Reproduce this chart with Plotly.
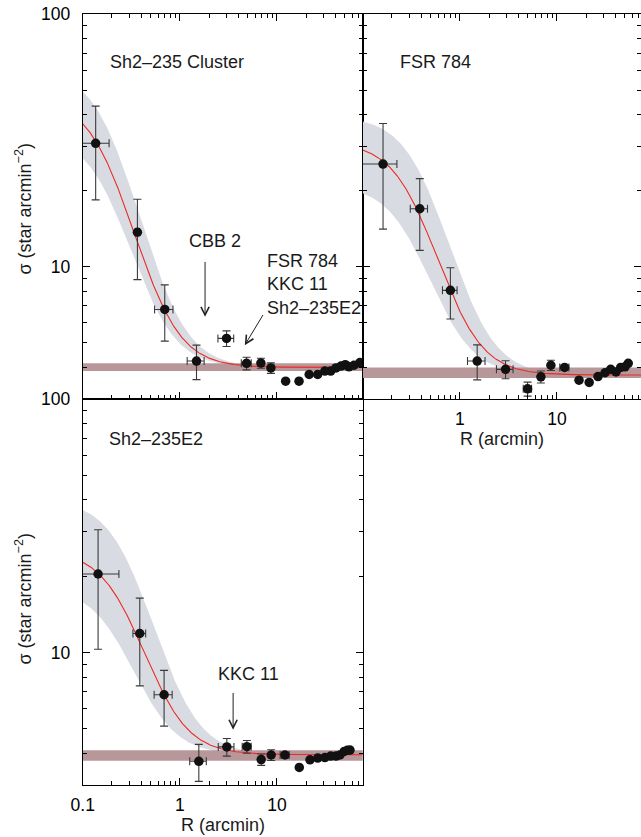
import numpy as np
import plotly.graph_objects as go

FONT = "Liberation Sans, Arial, Helvetica, sans-serif"
W, H = 641, 837

# ---------------- radial density profiles ----------------
# Sh2-235 Cluster
cl_r = [0.136, 0.366, 0.70, 1.486, 3.03, 4.87, 6.84, 8.67,
        12.3, 16.9, 21.5, 26.3, 31.2, 35.8, 40.6, 45.7, 50.6, 55.2, 62.2, 71.7]
cl_r_err = [0.051, 0.02, 0.15, 0.295, 0.56, 0.57, 0.25, 0.25] + [None] * 12
cl_sigma = [30.8, 13.7, 6.78, 4.24, 5.21, 4.15, 4.16, 3.98,
            3.53, 3.53, 3.75, 3.75, 3.87, 3.87, 3.98, 4.05, 4.10, 4.02, 4.08, 4.18]
cl_sigma_err = [12.4, 4.8, 1.7, 0.66, 0.37, 0.24, 0.19, 0.19] + [None] * 12

# FSR 784
fsr_r = [0.162, 0.387, 0.80, 1.51, 2.96, 4.99, 6.84, 8.67, 12.0,
         16.9, 21.5, 26.5, 31.3, 35.8, 40.6, 45.4, 50.3, 54.3]
fsr_r_err = [0.063, 0.078, 0.137, 0.31, 0.575, 0.49, 0.3, 0.3, 1.3] + [None] * 9
fsr_sigma = [25.5, 16.97, 8.07, 4.24, 3.93, 3.29, 3.67, 4.08, 4.00,
             3.56, 3.49, 3.68, 3.81, 3.93, 3.84, 4.00, 4.02, 4.15]
fsr_sigma_err = [11.4, 5.35, 1.85, 0.67, 0.32, 0.21, 0.2, 0.19, 0.1] + [None] * 9

# Sh2-235E2
e2_r = [0.144, 0.387, 0.689, 1.57, 3.05, 4.91, 6.89, 8.73, 12.1,
        17.0, 21.9, 26.3, 31.2, 35.8, 40.6, 44.6, 49.4, 53.1, 56.6]
e2_r_err = [0.092, 0.058, 0.145, 0.305, 0.56, 0.52, 0.3, 0.3, 1.3] + [None] * 10
e2_sigma = [20.4, 11.88, 6.81, 3.72, 4.24, 4.25, 3.78, 3.94, 3.94,
            3.52, 3.77, 3.83, 3.85, 3.90, 3.90, 3.94, 4.07, 4.11, 4.12]
e2_sigma_err = [10.1, 4.5, 1.69, 0.62, 0.34, 0.245, 0.195, 0.19, 0.1] + [None] * 10

# King-profile fits: (sigma_bg, sigma_0, R_core), 1-sigma envelope and background level band
cl_fit = (4.00, 42.6, 0.183)
cl_fit_hi = (57.0, 0.198)
cl_fit_lo = (29.7, 0.184)
cl_bg_band = (3.87, 4.15)

fsr_fit = (3.73, 27.3, 0.348)
fsr_fit_hi = (35.6, 0.436)
fsr_fit_lo = (17.35, 0.319)
fsr_bg_band = (3.63, 4.00)

e2_fit = (3.95, 21.3, 0.271)
e2_fit_hi = (36.05, 0.305)
e2_fit_lo = (14.1, 0.229)
e2_bg_band = (3.74, 4.11)

# ---------------- styling ----------------
RED = "#ec2a22"
GREY_BAND = "#d9dbe2"
ROSE_BAND = "#b8979b"
POINT = "#111111"
ERR = "#3a3a3a"


def king(r, bg, s0, rc):
    r = np.asarray(r)
    return bg + s0 / (1.0 + (r / rc) ** 2)


r_grid = np.logspace(-1, 1.95, 400)

fig = go.Figure()


def add_panel(xa, ya, r, r_err, sig, sig_err, fit, fit_hi, fit_lo, bg_band):
    bg = fit[0]
    # uncertainty envelope of the fit
    fig.add_trace(go.Scatter(x=r_grid, y=king(r_grid, bg, *fit_hi), mode="lines",
                             line=dict(width=0, color=GREY_BAND), xaxis=xa, yaxis=ya,
                             hoverinfo="skip"))
    fig.add_trace(go.Scatter(x=r_grid, y=king(r_grid, bg, *fit_lo), mode="lines",
                             line=dict(width=0, color=GREY_BAND), fill="tonexty",
                             fillcolor=GREY_BAND, xaxis=xa, yaxis=ya, hoverinfo="skip"))
    # background density level
    ends = [r_grid[0], r_grid[-1]]
    fig.add_trace(go.Scatter(x=ends, y=[bg_band[1]] * 2, mode="lines",
                             line=dict(width=0, color=ROSE_BAND), xaxis=xa, yaxis=ya,
                             hoverinfo="skip"))
    fig.add_trace(go.Scatter(x=ends, y=[bg_band[0]] * 2, mode="lines",
                             line=dict(width=0, color=ROSE_BAND), fill="tonexty",
                             fillcolor=ROSE_BAND, xaxis=xa, yaxis=ya, hoverinfo="skip"))
    # best-fit King profile
    fig.add_trace(go.Scatter(x=r_grid, y=king(r_grid, *fit), mode="lines",
                             line=dict(width=1.1, color=RED), xaxis=xa, yaxis=ya,
                             hoverinfo="skip"))
    # measured densities
    fig.add_trace(go.Scatter(
        x=r, y=sig, mode="markers", xaxis=xa, yaxis=ya,
        marker=dict(size=9.5, color=POINT),
        error_x=dict(type="data", array=r_err, symmetric=True, color=ERR,
                     thickness=1.1, width=4),
        error_y=dict(type="data", array=sig_err, symmetric=True, color=ERR,
                     thickness=1.1, width=4),
    ))


add_panel("x", "y", e2_r, e2_r_err, e2_sigma, e2_sigma_err,
          e2_fit, e2_fit_hi, e2_fit_lo, e2_bg_band)
add_panel("x2", "y2", cl_r, cl_r_err, cl_sigma, cl_sigma_err,
          cl_fit, cl_fit_hi, cl_fit_lo, cl_bg_band)
add_panel("x3", "y3", fsr_r, fsr_r_err, fsr_sigma, fsr_sigma_err,
          fsr_fit, fsr_fit_hi, fsr_fit_lo, fsr_bg_band)

# ---------------- axes ----------------
PX_PER_DEC = 97.1
x_left, x_mid, x_right = 82.7, 362.7, W
y_top, y_mid, y_bot = 14.0, 399.0, 785.0

dom_x_left = [x_left / W, x_mid / W]
dom_x_right = [x_mid / W, 1.0]
dom_y_top = [1 - y_mid / H, 1 - y_top / H]
dom_y_bot = [1 - y_bot / H, 1 - y_mid / H]

rng_x_left = [-1, -1 + (x_mid - x_left) / PX_PER_DEC]
rng_x_right = [-1, -1 + (x_right - x_mid) / PX_PER_DEC]
rng_y = [np.log10(3), 2]

x_major = [0.1, 1, 10]
x_minor = [m * d for d in (0.1, 1, 10) for m in range(2, 10)]
y_major = [10, 100]
y_minor = [m * d for d in (1, 10) for m in range(2, 10)]

tickfont = dict(family=FONT, size=17.5, color="black")


def axis(domain, rng, vals, texts, minor_vals, mirror, show_labels, standoff):
    return dict(
        type="log", domain=domain, range=rng, automargin=False,
        showline=True, linecolor="black",
        linewidth=1, mirror=mirror, ticks="inside", ticklen=7, tickwidth=1,
        tickcolor="black", tickmode="array", tickvals=vals, ticktext=texts,
        showticklabels=show_labels, showgrid=False, zeroline=False,
        tickfont=tickfont, ticklabelstandoff=standoff,
        minor=dict(ticks="inside", ticklen=4, tickwidth=1, tickcolor="black",
                   tickmode="array", tickvals=minor_vals, showgrid=False),
    )


fig.update_layout(
    template="none",
    xaxis=axis(dom_x_left, rng_x_left, x_major, ["0.1", "1", "10"], x_minor,
               True, True, 4),
    yaxis=axis(dom_y_bot, rng_y, y_major, ["10", "100"], y_minor, "ticks", True, 8),
    xaxis2=axis(dom_x_left, rng_x_left, x_major, ["", "", ""], x_minor,
                "ticks", False, 4),
    yaxis2=axis(dom_y_top, rng_y, y_major, ["10", "100"], y_minor, "ticks", True, 8),
    xaxis3=axis(dom_x_right, rng_x_right, x_major, ["", "1", "10"], x_minor,
                "ticks", True, 4),
    yaxis3=axis(dom_y_top, rng_y, y_major, ["", ""], y_minor, "ticks", False, 8),
)
fig.update_layout(xaxis2=dict(anchor="y2"), yaxis2=dict(anchor="x2"),
                  xaxis3=dict(anchor="y3"), yaxis3=dict(anchor="x3"))

# ---------------- text ----------------
lab_font = dict(family=FONT, size=18, color="#1a1a1a")
ann = []

# panel names
ann.append(dict(text="Sh2–235 Cluster", xref="x2 domain", yref="y2 domain",
                x=0.090, y=0.875, xanchor="left", yanchor="middle",
                showarrow=False, font=lab_font))
ann.append(dict(text="FSR 784", xref="x3 domain", yref="y3 domain",
                x=0.126, y=0.875, xanchor="left", yanchor="middle",
                showarrow=False, font=lab_font))
ann.append(dict(text="Sh2–235E2", xref="x domain", yref="y domain",
                x=0.087, y=0.896, xanchor="left", yanchor="middle",
                showarrow=False, font=lab_font))

lg = np.log10

# markers of neighbouring clusters
ann.append(dict(text="CBB 2", xref="x2", yref="y2", x=lg(2.32), y=lg(12.6),
                showarrow=False, font=lab_font))
ann.append(dict(text="", xref="x2", yref="y2", x=lg(1.82), y=lg(6.34),
                axref="x2", ayref="y2", ax=lg(1.82), ay=lg(10.6),
                showarrow=True, arrowhead=5, arrowsize=1.6, arrowwidth=1,
                arrowcolor="#222", standoff=0, startstandoff=0))
ann.append(dict(text="FSR 784<br>KKC 11<br>Sh2–235E2", xref="x2", yref="y2",
                x=lg(7.52), y=lg(8.55), xanchor="left", yanchor="middle",
                align="left", showarrow=False, font=lab_font))
ann.append(dict(text="", xref="x2", yref="y2", x=lg(4.67), y=lg(4.90),
                axref="x2", ayref="y2", ax=lg(7.35), ay=lg(6.54),
                showarrow=True, arrowhead=5, arrowsize=1.6, arrowwidth=1,
                arrowcolor="#222", standoff=0, startstandoff=0))
ann.append(dict(text="KKC 11", xref="x", yref="y", x=lg(5.08), y=lg(8.24),
                showarrow=False, font=lab_font))
ann.append(dict(text="", xref="x", yref="y", x=lg(3.54), y=lg(4.96),
                axref="x", ayref="y", ax=lg(3.54), ay=lg(7.02),
                showarrow=True, arrowhead=5, arrowsize=1.6, arrowwidth=1,
                arrowcolor="#222", standoff=0, startstandoff=0))

# axis titles
ytitle = "σ (star arcmin<sup>−2</sup>)"
ann.append(dict(text=ytitle, xref="paper", yref="paper", x=23.5 / W, y=1 - 209 / H,
                textangle=-90, showarrow=False, xanchor="center", yanchor="middle",
                font=lab_font))
ann.append(dict(text=ytitle, xref="paper", yref="paper", x=23.5 / W, y=1 - 599 / H,
                textangle=-90, showarrow=False, xanchor="center", yanchor="middle",
                font=lab_font))
ann.append(dict(text="R (arcmin)", xref="paper", yref="paper", x=223 / W, y=1 - 825 / H,
                showarrow=False, xanchor="center", yanchor="middle", font=lab_font))
ann.append(dict(text="R (arcmin)", xref="paper", yref="paper", x=502 / W, y=1 - 439 / H,
                showarrow=False, xanchor="center", yanchor="middle", font=lab_font))

fig.update_layout(
    annotations=ann,
    width=W, height=H, margin=dict(l=0, r=0, t=0, b=0, autoexpand=False),
    paper_bgcolor="white", plot_bgcolor="white", showlegend=False,
    font=dict(family=FONT, color="black"),
)

# page without default body margin so the figure sits at the window origin
fig.write_html("out.html",
               post_script="document.body.style.margin='0';"
                           "document.body.style.overflow='hidden';")
